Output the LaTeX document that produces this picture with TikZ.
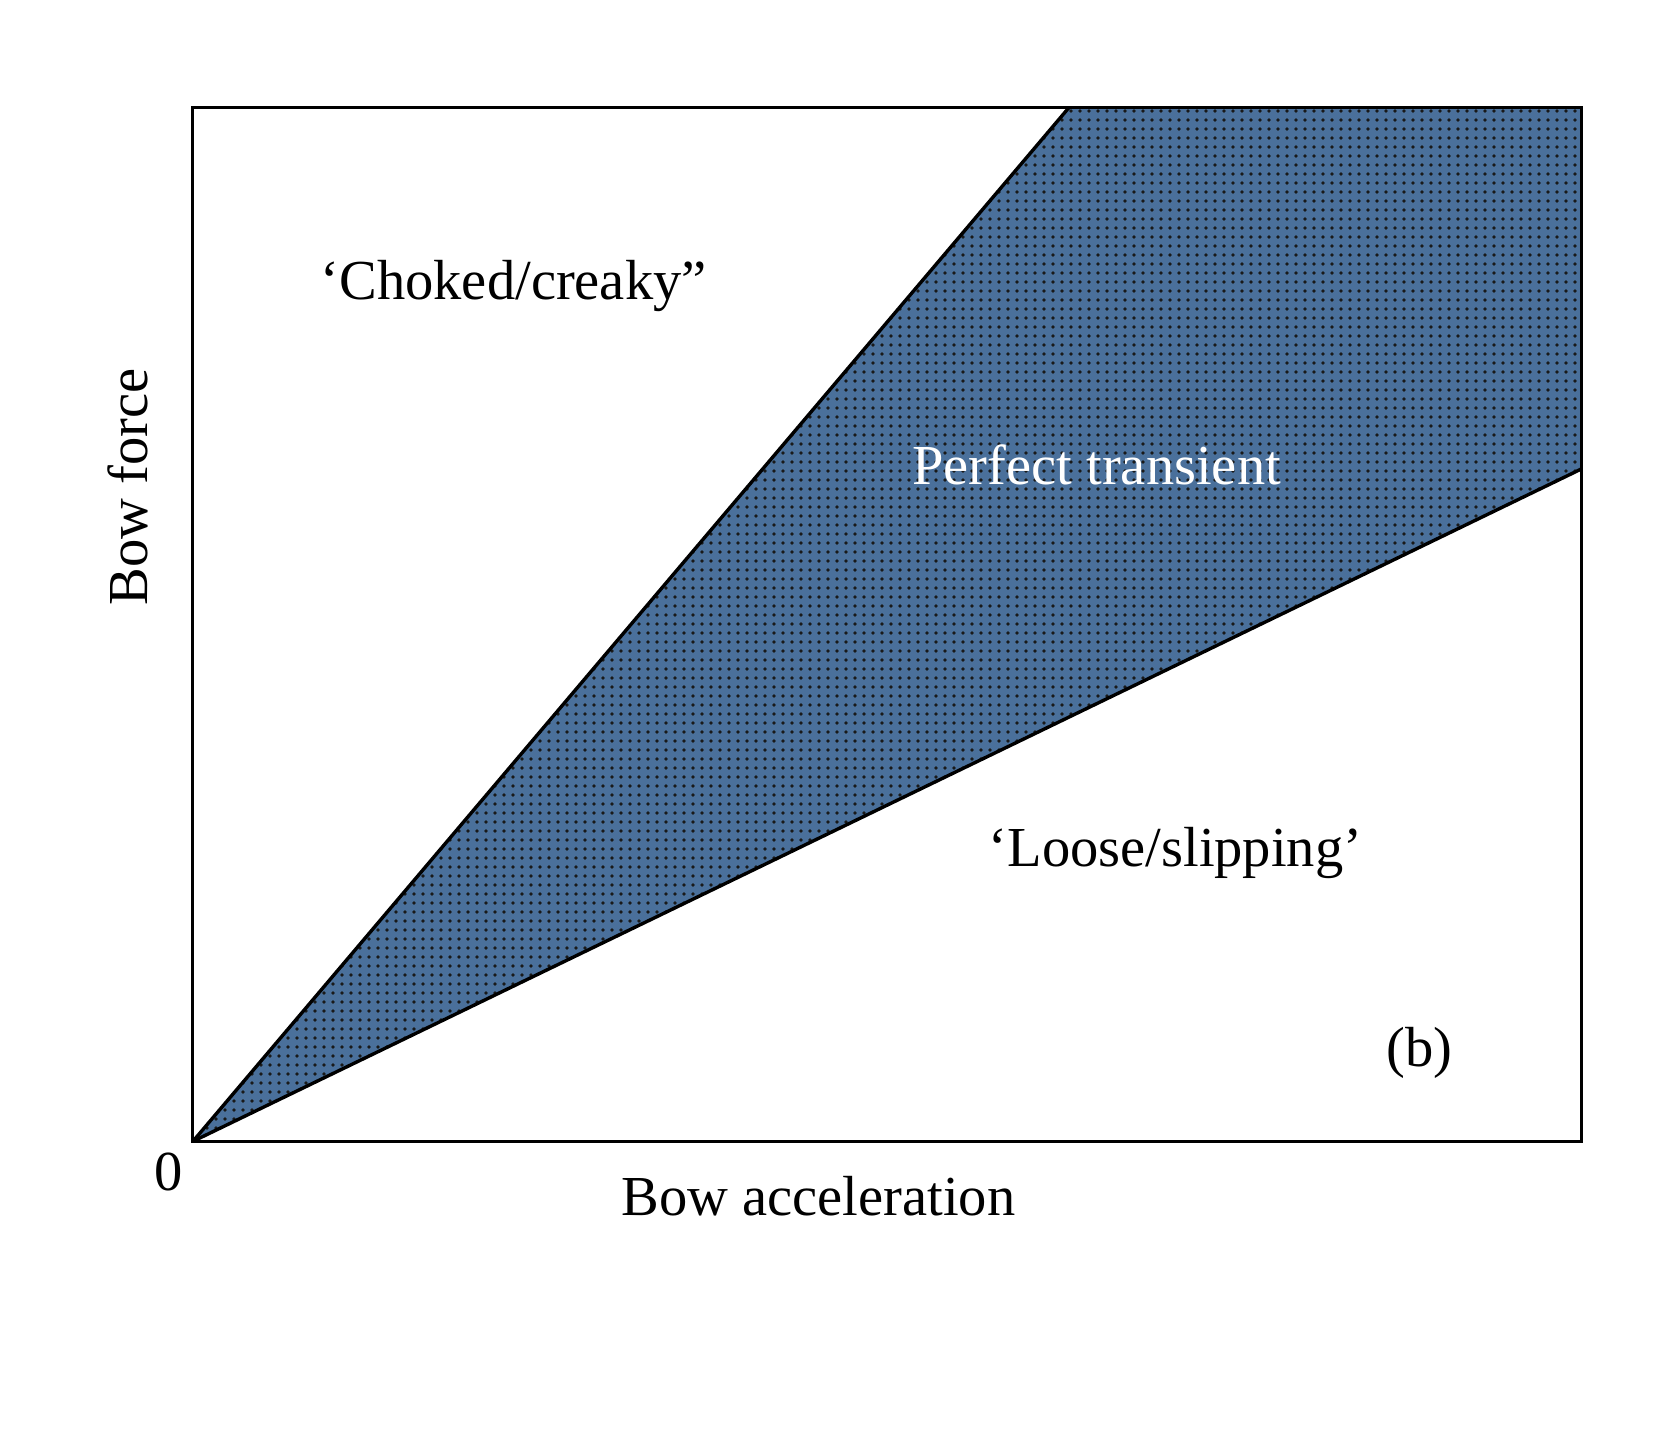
\documentclass[tikz,border=0pt]{standalone}
\usepackage{fontspec}
\setmainfont{Liberation Serif}
\usetikzlibrary{patterns.meta}
\definecolor{regblue}{RGB}{74,112,155}
\tikzset{
  lbl/.style={font=\fontsize{56.5}{65}\selectfont, inner sep=0pt},
  bnd/.style={line width=3.4pt, line join=round},
}
\begin{document}
\begin{tikzpicture}[x=1.0657pt,y=-1.0657pt]
\useasboundingbox (0,0) rectangle (1568,1345.6);
\coordinate (O) at (181,1071);
\coordinate (TL) at (181,101);
\coordinate (TR) at (1484,101);
\coordinate (BR) at (1484,1071);
\coordinate (U) at (1003,101);
\coordinate (L) at (1484,440);
\fill[regblue] (O) -- (U) -- (TR) -- (L) -- cycle;
\fill[pattern={Dots[distance=9pt, radius=1.8pt, angle=0]}, pattern color=black!90] (O) -- (U) -- (TR) -- (L) -- cycle;
\draw[bnd] (O) -- (U);
\draw[bnd] (O) -- (L);
\draw[line width=3pt] (TL) rectangle (BR);
\node[lbl] (choked) at (482,268) {‘Choked/creaky”};
\node[lbl, text=white] (perfect) at (1029,436) {Perfect transient};
\node[lbl] (loose) at (1103,800) {‘Loose/slipping’};
\node[lbl] (b) at (1332,988) {(b)};
\node[lbl] (zero) at (158,1100) {0};
\node[lbl] (xlab) at (768,1122) {Bow acceleration};
\node[lbl, rotate=90] (ylab) at (120,457) {Bow force};
\end{tikzpicture}
\end{document}
